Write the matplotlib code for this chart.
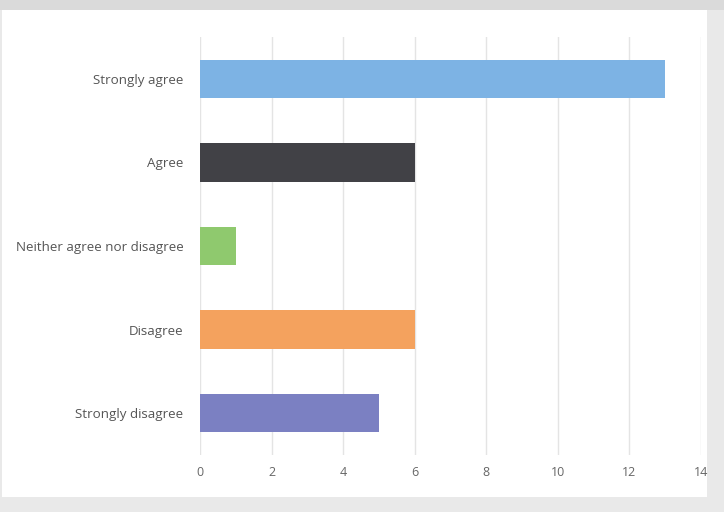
import matplotlib
matplotlib.use("Agg")
import matplotlib.pyplot as plt
from matplotlib.patches import Rectangle

categories = ["Strongly agree", "Agree", "Neither agree nor disagree", "Disagree", "Strongly disagree"]
values = [13, 6, 1, 6, 5]
colors = ["#7db3e4", "#414146", "#8fc96e", "#f4a25e", "#7b80c2"]
xticks = [0, 2, 4, 6, 8, 10, 12, 14]

plt.rcParams['font.family'] = ['Open Sans', 'DejaVu Sans']

W, H = 724, 512
fig = plt.figure(figsize=(W/100, H/100), dpi=100)
fig.patch.set_facecolor("#e9e9e9")

# top band and white panel
fig.add_artist(Rectangle((0, 1 - 10/H), 1, 10/H, transform=fig.transFigure,
                         facecolor="#dadada", edgecolor="none", zorder=0))
fig.add_artist(Rectangle((2/W, 1 - 497/H), 705/W, 487/H, transform=fig.transFigure,
                         facecolor="white", edgecolor="none", zorder=0))

ax = fig.add_axes([200/W, 1 - 455/H, 501/W, 418/H])
ax.set_facecolor("none")
y = list(range(len(categories)))
ax.barh(y, values, height=0.46, color=colors, zorder=3)
ax.set_ylim(len(categories) - 0.5, -0.5)
ax.set_xlim(0, 14)
ax.set_xticks(xticks)
ax.set_xticklabels([str(t) for t in xticks], color="#666666", fontsize=9)
ax.set_yticks(y)
ax.set_yticklabels(categories, color="#555555", fontsize=9.6)
ax.tick_params(axis="x", length=0, pad=8)
ax.tick_params(axis="y", length=0, pad=12)
ax.grid(axis="x", color="#e4e4e4", linewidth=1, zorder=0)
for s in ax.spines.values():
    s.set_visible(False)

fig.savefig("out.png", dpi=100, facecolor=fig.get_facecolor())
